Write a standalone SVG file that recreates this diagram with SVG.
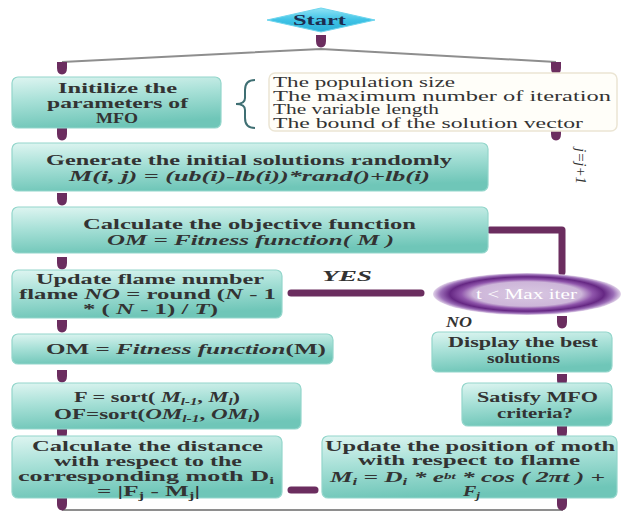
<svg xmlns="http://www.w3.org/2000/svg" width="632" height="513" viewBox="0 0 632 513">
<defs>
<linearGradient id="teal" x1="0" y1="0" x2="0.25" y2="1">
<stop offset="0" stop-color="#def5f1"/>
<stop offset="0.45" stop-color="#a9e1d8"/>
<stop offset="1" stop-color="#6fc6b8"/>
</linearGradient>
<linearGradient id="cyan" x1="0" y1="0" x2="0" y2="1">
<stop offset="0" stop-color="#8fe3f5"/>
<stop offset="0.5" stop-color="#3fc3e6"/>
<stop offset="1" stop-color="#2aaed6"/>
</linearGradient>
<radialGradient id="ring" cx="0.5" cy="0.5" r="0.5">
<stop offset="0" stop-color="#d9c8e2"/>
<stop offset="0.58" stop-color="#cdb6d9"/>
<stop offset="0.7" stop-color="#8f55ab"/>
<stop offset="0.82" stop-color="#652783"/>
<stop offset="0.92" stop-color="#9a6cb6"/>
<stop offset="1" stop-color="#e2d4ea"/>
</radialGradient>
<path id="knob" d="M-5,-6 H5 V0 Q5,6 0,6.5 Q-5,6 -5,0 Z"/>
</defs>
<style>
.box{fill:url(#teal);stroke:#93d6cb;stroke-width:1.2}
.t{font-family:"Liberation Serif","DejaVu Serif",serif;font-size:15px;fill:#333;font-weight:bold}
.n{font-family:"Liberation Serif","DejaVu Serif",serif;font-size:14px;fill:#333}
.i{font-style:italic}
.s{font-size:10px}
.sup{font-size:9px}
.knob{fill:#6b2d5f}
.thick{stroke:#6b2d5f;stroke-width:7;fill:none;stroke-linecap:round;stroke-linejoin:round}
.gray{stroke:#8e8e8e;stroke-width:2;fill:none}
</style>

<g id="connectors">
<path class="gray" d="M62,62 L321,49 L556,62"/>
<path class="gray" d="M62,510 H563"/>
<path class="thick" d="M490,230 H562 V272"/>
<path class="thick" d="M291,293 H421"/>
<path class="thick" d="M291,490 H315"/>
<use href="#knob" class="knob" x="321" y="41"/>
<use href="#knob" class="knob" x="62" y="68"/>
<use href="#knob" class="knob" x="556" y="68"/>
<use href="#knob" class="knob" x="62" y="134"/>
<use href="#knob" class="knob" x="556" y="134"/>
<use href="#knob" class="knob" x="62" y="199"/>
<use href="#knob" class="knob" x="62" y="263"/>
<use href="#knob" class="knob" x="562" y="322"/>
<use href="#knob" class="knob" x="62" y="326"/>
<use href="#knob" class="knob" x="62" y="376"/>
<use href="#knob" class="knob" x="562" y="380"/>
<use href="#knob" class="knob" x="62" y="433"/>
<use href="#knob" class="knob" x="562" y="432"/>
<use href="#knob" class="knob" x="62" y="504"/>
<use href="#knob" class="knob" x="562" y="504"/>
<text class="t i" x="322" y="281" textLength="50" lengthAdjust="spacingAndGlyphs">YES</text>
<text class="t i" x="446" y="327" textLength="26" lengthAdjust="spacingAndGlyphs">NO</text>
<text class="n i" transform="translate(576,148) rotate(90)" textLength="36" lengthAdjust="spacingAndGlyphs">j=j+1</text>
</g>

<g id="start">
<polygon points="267,20 321,8 375,20 321,32" fill="url(#cyan)" stroke="#6fd6ee" stroke-width="1"/>
<text class="t" x="293" y="25" style="fill:#1d2d4f" textLength="53" lengthAdjust="spacingAndGlyphs">Start</text>
</g>

<g id="init">
<rect class="box" x="12" y="77" width="209" height="51" rx="6"/>
<text class="t" x="58" y="93" textLength="119" lengthAdjust="spacingAndGlyphs">Initilize the</text>
<text class="t" x="47" y="108" textLength="141" lengthAdjust="spacingAndGlyphs">parameters of</text>
<text class="t" x="96" y="123" textLength="42" lengthAdjust="spacingAndGlyphs">MFO</text>
</g>

<g id="params">
<path d="M255,80 Q245,80 245,90 V98 Q245,104 236,104 Q245,104 245,110 V118 Q245,128 255,128" fill="none" stroke="#3f6f73" stroke-width="2"/>
<rect x="269" y="73" width="348" height="58" rx="6" fill="#fffef9" stroke="#ebe5d4" stroke-width="1.5"/>
<text class="n" x="273" y="87" textLength="182" lengthAdjust="spacingAndGlyphs">The population size</text>
<text class="n" x="273" y="100.5" textLength="338" lengthAdjust="spacingAndGlyphs">The maximum number of iteration</text>
<text class="n" x="273" y="114" textLength="166" lengthAdjust="spacingAndGlyphs">The variable length</text>
<text class="n" x="273" y="127.5" textLength="310" lengthAdjust="spacingAndGlyphs">The bound of the solution vector</text>
</g>

<g id="generate">
<rect class="box" x="12" y="143" width="476" height="48" rx="6"/>
<text class="t" x="46" y="165" textLength="406" lengthAdjust="spacingAndGlyphs">Generate the initial solutions randomly</text>
<text class="t i" x="69" y="181" textLength="361" lengthAdjust="spacingAndGlyphs">M(i, j) = (ub(i)-lb(i))*rand()+lb(i)</text>
</g>

<g id="objective">
<rect class="box" x="12" y="207" width="476" height="46" rx="6"/>
<text class="t" x="83" y="229" textLength="333" lengthAdjust="spacingAndGlyphs">Calculate the objective function</text>
<text class="t i" x="107" y="245" textLength="287" lengthAdjust="spacingAndGlyphs">OM = Fitness function( M )</text>
</g>

<g id="update-flame">
<rect class="box" x="12" y="270" width="270" height="48" rx="6"/>
<text class="t" x="36" y="284" textLength="228" lengthAdjust="spacingAndGlyphs">Update flame number</text>
<text class="t" x="19" y="299" textLength="257" lengthAdjust="spacingAndGlyphs">flame <tspan class="i">NO</tspan> = round (<tspan class="i">N</tspan> - 1</text>
<text class="t" x="83" y="314" textLength="135" lengthAdjust="spacingAndGlyphs">* ( <tspan class="i">N</tspan> - 1) / <tspan class="i">T</tspan>)</text>
</g>

<g id="condition">
<ellipse cx="527" cy="294" rx="94" ry="21" fill="url(#ring)"/>
<text class="n" x="476" y="299" textLength="101" lengthAdjust="spacingAndGlyphs" style="fill:#ffffff">t &lt; Max  iter</text>
</g>

<g id="fitness">
<rect class="box" x="12" y="334" width="321" height="30" rx="6"/>
<text class="t" x="46" y="354" textLength="280" lengthAdjust="spacingAndGlyphs">OM = <tspan class="i">Fitness function</tspan>(M)</text>
</g>

<g id="display">
<rect class="box" x="432" y="332" width="180" height="40" rx="6"/>
<text class="t" x="448" y="347" textLength="150" lengthAdjust="spacingAndGlyphs">Display the best</text>
<text class="t" x="487" y="363" textLength="73" lengthAdjust="spacingAndGlyphs">solutions</text>
</g>

<g id="sort">
<rect class="box" x="12" y="383" width="289" height="46" rx="6"/>
<text class="t" x="74" y="402" textLength="166" lengthAdjust="spacingAndGlyphs">F = sort( <tspan class="i">M</tspan><tspan class="s i" dy="3">l-1</tspan><tspan dy="-3">, </tspan><tspan class="i">M</tspan><tspan class="s i" dy="3">l</tspan><tspan dy="-3">)</tspan></text>
<text class="t" x="54" y="419" textLength="206" lengthAdjust="spacingAndGlyphs">OF=sort(<tspan class="i">OM</tspan><tspan class="s i" dy="3">l-1</tspan><tspan dy="-3">, </tspan><tspan class="i">OM</tspan><tspan class="s i" dy="3">l</tspan><tspan dy="-3">)</tspan></text>
</g>

<g id="satisfy">
<rect class="box" x="462" y="383" width="150" height="43" rx="6"/>
<text class="t" x="477" y="402" textLength="121" lengthAdjust="spacingAndGlyphs">Satisfy MFO</text>
<text class="t" x="497" y="418" textLength="76" lengthAdjust="spacingAndGlyphs">criteria?</text>
</g>

<g id="distance">
<rect class="box" x="12" y="436" width="270" height="62" rx="6"/>
<text class="t" x="32" y="451" textLength="231" lengthAdjust="spacingAndGlyphs">Calculate the distance</text>
<text class="t" x="54" y="466" textLength="188" lengthAdjust="spacingAndGlyphs">with respect to the</text>
<text class="t" x="18" y="481" textLength="256" lengthAdjust="spacingAndGlyphs">corresponding moth D<tspan class="s" dy="3">i</tspan></text>
<text class="t" x="97" y="496" textLength="103" lengthAdjust="spacingAndGlyphs">= |F<tspan class="s" dy="3">j</tspan><tspan dy="-3"> - M</tspan><tspan class="s" dy="3">j</tspan><tspan dy="-3">|</tspan></text>
</g>

<g id="update-position">
<rect class="box" x="322" y="436" width="295" height="62" rx="6"/>
<text class="t" x="325" y="451" textLength="290" lengthAdjust="spacingAndGlyphs">Update the position of moth</text>
<text class="t" x="358" y="465" textLength="222" lengthAdjust="spacingAndGlyphs">with respect to flame</text>
<text class="t i" x="330" y="482" textLength="275" lengthAdjust="spacingAndGlyphs">M<tspan class="s" dy="3">i</tspan><tspan dy="-3"> = D</tspan><tspan class="s" dy="3">i</tspan><tspan dy="-3"> * e</tspan><tspan class="sup" dy="-3">bt</tspan><tspan dy="3"> * cos ( 2πt ) +</tspan></text>
<text class="t i" x="463" y="496" textLength="17" lengthAdjust="spacingAndGlyphs">F<tspan class="s" dy="3">j</tspan></text>
</g>
</svg>
